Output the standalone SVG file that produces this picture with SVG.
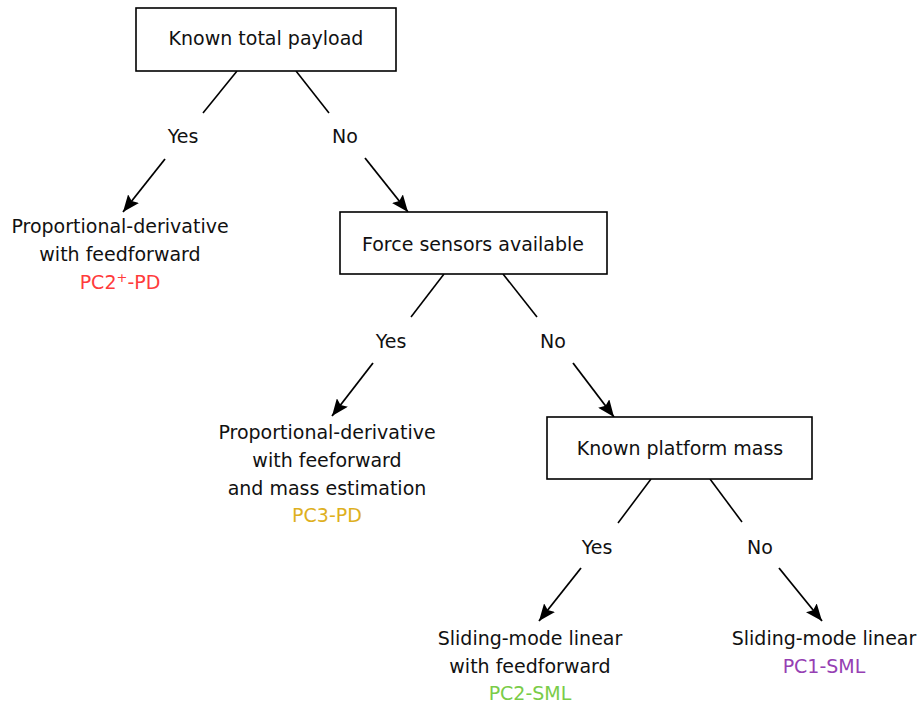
<svg xmlns="http://www.w3.org/2000/svg" width="922" height="706" viewBox="0 0 922 706">
<defs>
<marker id="ah" markerUnits="userSpaceOnUse" markerWidth="18" markerHeight="14" refX="17" refY="7" orient="auto">
<path d="M0,0 L17,7 L0,14 L3,7 z" fill="#000"/>
</marker>
<style>
text{font-family:"DejaVu Sans",Verdana,sans-serif;font-size:19px;fill:#111;text-anchor:middle}
.box{fill:#fff;stroke:#000;stroke-width:1.6}
.ln{stroke:#000;stroke-width:1.6;fill:none}
.ar{stroke:#000;stroke-width:1.8;fill:none;marker-end:url(#ah)}
.red{fill:#ff3b3b}
.gold{fill:#deb01e}
.green{fill:#7acc48}
.purple{fill:#963fb3}
</style>
</defs>
<rect width="922" height="706" fill="#fff"/>
<g id="connectors">
<line class="ln" x1="237" y1="71" x2="203" y2="113"/>
<line class="ln" x1="296" y1="71" x2="329" y2="113"/>
<line class="ar" x1="165" y1="159" x2="123" y2="212"/>
<line class="ar" x1="365" y1="158" x2="408" y2="212"/>
<line class="ln" x1="444" y1="274" x2="411" y2="317"/>
<line class="ln" x1="503" y1="274" x2="537" y2="317"/>
<line class="ar" x1="373" y1="363" x2="332" y2="416"/>
<line class="ar" x1="573" y1="363" x2="614" y2="417"/>
<line class="ln" x1="651" y1="479" x2="618" y2="523"/>
<line class="ln" x1="710" y1="479" x2="742" y2="522"/>
<line class="ar" x1="581" y1="568" x2="539" y2="621"/>
<line class="ar" x1="779" y1="568" x2="822" y2="621"/>
<text x="183" y="143">Yes</text>
<text x="345" y="143">No</text>
<text x="391" y="348">Yes</text>
<text x="553" y="348">No</text>
<text x="597" y="554">Yes</text>
<text x="760" y="554">No</text>
</g>
<g id="n1">
<rect class="box" x="136" y="8" width="260" height="63"/>
<text x="266" y="45">Known total payload</text>
</g>
<g id="n2">
<rect class="box" x="340" y="212" width="267" height="62"/>
<text x="473" y="251">Force sensors available</text>
</g>
<g id="n3">
<rect class="box" x="547" y="417" width="265" height="62"/>
<text x="680" y="455">Known platform mass</text>
</g>
<g id="leaf1">
<text x="120" y="233">Proportional-derivative</text>
<text x="120" y="261">with feedforward</text>
<text class="red" x="120" y="289">PC2<tspan dy="-7" font-size="13">+</tspan><tspan dy="7">-PD</tspan></text>
</g>
<g id="leaf2">
<text x="327" y="439">Proportional-derivative</text>
<text x="327" y="467">with feeforward</text>
<text x="327" y="495">and mass estimation</text>
<text class="gold" x="327" y="522">PC3-PD</text>
</g>
<g id="leaf3">
<text x="530" y="645">Sliding-mode linear</text>
<text x="530" y="673">with feedforward</text>
<text class="green" x="530" y="700">PC2-SML</text>
</g>
<g id="leaf4">
<text x="824" y="645">Sliding-mode linear</text>
<text class="purple" x="824" y="673">PC1-SML</text>
</g>
</svg>
